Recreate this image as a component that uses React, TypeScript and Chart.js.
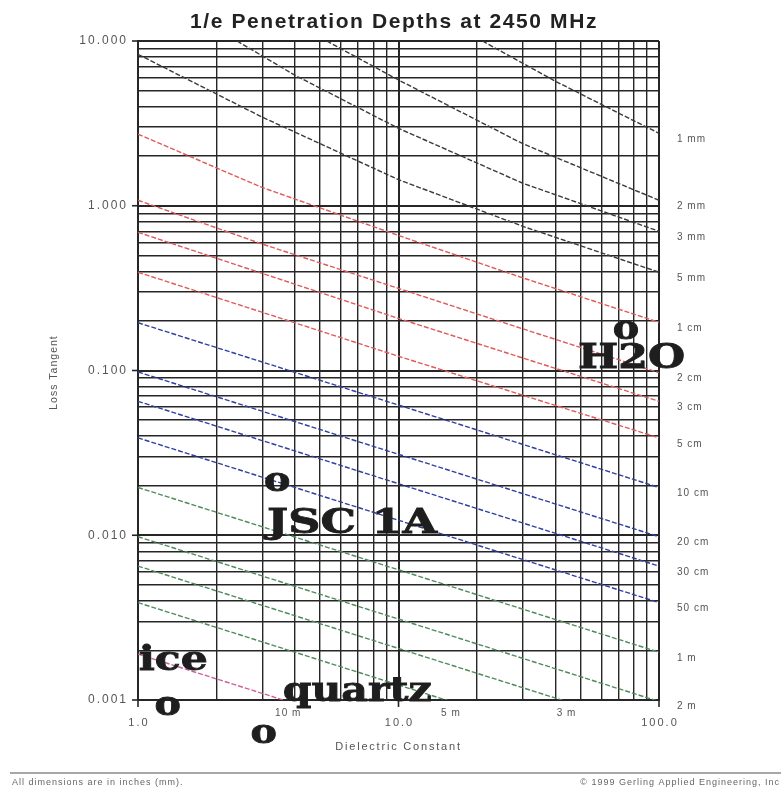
import React, { useEffect, useRef } from "react";
import { Chart, registerables } from "chart.js";
Chart.register(...registerables);

// ---------- text ----------
const chartTitle = "1/e Penetration Depths at 2450 MHz";
const xTitle = "Dielectric Constant";
const yTitle = "Loss Tangent";
const footLeft = "All dimensions are in inches (mm).";
const footRight = "\u00A9 1999 Gerling Applied Engineering, Inc";

// ---------- axes ----------
const xDecades = [1, 10, 100];
const xDecadeLabels = ["1.0", "10.0", "100.0"];
const yDecades = [0.001, 0.01, 0.1, 1, 10];
const yDecadeLabels = ["0.001", "0.010", "0.100", "1.000", "10.000"];
const gridMultipliers = [1, 2, 3, 4, 5, 6, 7, 8, 9];

// ---------- penetration-depth lines (dielectric constant, loss tangent) ----------
const depthLabels = ["1 mm", "2 mm", "3 mm", "5 mm", "1 cm", "2 cm", "3 cm", "5 cm", "10 cm", "20 cm", "30 cm", "50 cm", "1 m", "2 m", "3 m", "5 m", "10 m"];
const depthGroup = ["mm", "mm", "mm", "mm", "cm", "cm", "cm", "cm", "dm", "dm", "dm", "dm", "m", "m", "m", "m", "far"];
const depthLabelSide = ["r", "r", "r", "r", "r", "r", "r", "r", "r", "r", "r", "r", "r", "r", "b", "b", "b"];
const depthEps = [
  [21, 40, 100],
  [5.3, 10, 30, 100],
  [2.4, 4, 10, 30, 100],
  [1, 3, 10, 30, 100],
  [1, 3, 10, 30, 100],
  [1, 3, 10, 30, 100],
  [1, 10, 100],
  [1, 10, 100],
  [1, 100],
  [1, 100],
  [1, 100],
  [1, 100],
  [1, 100],
  [1, 100],
  [1, 100],
  [1, 100],
  [1, 100],
];
const depthTan = [
  [10, 5.7, 2.75],
  [10, 5.8, 2.38, 1.08],
  [10, 6.2, 2.95, 1.37, 0.7],
  [8.3, 3.45, 1.44, 0.75, 0.395],
  [2.72, 1.29, 0.66, 0.365, 0.196],
  [1.08, 0.585, 0.315, 0.179, 0.097],
  [0.69, 0.207, 0.065],
  [0.395, 0.122, 0.039],
  [0.195, 0.0195],
  [0.098, 0.0098],
  [0.065, 0.0065],
  [0.039, 0.0039],
  [0.0195, 0.00195],
  [0.0098, 0.00098],
  [0.0065, 0.00065],
  [0.0039, 0.00039],
  [0.0019, 0.00019],
];

// ---------- materials ----------
const materialNames = ["H2O", "JSC 1A", "ice", "quartz"];
const materialEps = [74.7, 3.42, 1.3, 3.04];
const materialTan = [0.176, 0.021, 0.00092, 0.00062];

// ---------- styles ----------
const groupColor: Record<string, string> = {
  mm: "#3a3a3a",
  cm: "#e05a5a",
  dm: "#2f3f9f",
  m: "#4f8a5a",
  far: "#d0609a",
};
const GRID = "#262626";
const LABEL = "#555555";
const SANS = "'Liberation Sans', Arial, sans-serif";
const SERIF = "'DejaVu Serif', serif";
const materialLabelOffset = [[-48, 38], [-10, 51], [-29, -36], [19, -33]];
const materialLabelWidth = [107, 170, 69, 149];

const isDecade = (v: number) => Math.abs(Math.log10(v) - Math.round(Math.log10(v))) < 1e-9;

const overlay = {
  id: "overlay",
  afterDraw(chart: any) {
    const { ctx, chartArea: a, scales } = chart;
    const x = scales.x;
    const y = scales.y;
    ctx.save();

    // major tick marks
    ctx.strokeStyle = GRID;
    ctx.lineWidth = 1.6;
    yDecades.forEach((v) => {
      const py = y.getPixelForValue(v);
      ctx.beginPath();
      ctx.moveTo(a.left - 6, py);
      ctx.lineTo(a.left, py);
      ctx.stroke();
    });
    xDecades.forEach((v) => {
      const px = x.getPixelForValue(v);
      ctx.beginPath();
      ctx.moveTo(px, a.bottom);
      ctx.lineTo(px, a.bottom + 7);
      ctx.stroke();
    });

    // tick labels
    ctx.fillStyle = LABEL;
    ctx.font = `12px ${SANS}`;
    (ctx as any).letterSpacing = "2px";
    ctx.textAlign = "right";
    ctx.textBaseline = "middle";
    yDecades.forEach((v, i) => {
      ctx.fillText(yDecadeLabels[i], a.left - 10, y.getPixelForValue(v));
    });
    ctx.font = `11px ${SANS}`;
    ctx.textAlign = "center";
    xDecades.forEach((v, i) => {
      ctx.fillText(xDecadeLabels[i], x.getPixelForValue(v) + 1, a.bottom + 23);
    });

    // axis titles
    ctx.font = `11px ${SANS}`;
    (ctx as any).letterSpacing = "1.8px";
    ctx.fillText(xTitle, (a.left + a.right) / 2, a.bottom + 47);
    ctx.save();
    ctx.translate(54, (a.top + a.bottom) / 2 + 2);
    ctx.rotate(-Math.PI / 2);
    ctx.font = `10.5px ${SANS}`;
    (ctx as any).letterSpacing = "1px";
    ctx.fillText(yTitle, 0, 0);
    ctx.restore();

    // title
    (ctx as any).letterSpacing = "1.6px";
    ctx.fillStyle = "#222";
    ctx.font = `bold 21px ${SANS}`;
    ctx.fillText(chartTitle, 394, 22);

    // depth labels
    ctx.fillStyle = LABEL;
    ctx.font = `10px ${SANS}`;
    (ctx as any).letterSpacing = "1px";
    ctx.textAlign = "left";
    const logMin = Math.log10(y.min);
    depthLabels.forEach((lab, i) => {
      const es = depthEps[i];
      const ts = depthTan[i];
      const n = es.length;
      if (depthLabelSide[i] === "r") {
        const py = Math.min(y.getPixelForValue(ts[n - 1]), a.bottom);
        ctx.textAlign = "left";
        ctx.fillText(lab, a.right + 18, py + 6);
      } else {
        for (let k = 0; k < n - 1; k++) {
          const t0 = Math.log10(ts[k]);
          const t1 = Math.log10(ts[k + 1]);
          if (t0 >= logMin && t1 < logMin) {
            const f = (t0 - logMin) / (t0 - t1);
            const le = Math.log10(es[k]) + f * (Math.log10(es[k + 1]) - Math.log10(es[k]));
            const px = x.getPixelForValue(Math.pow(10, le));
            ctx.textAlign = "center";
            ctx.fillText(lab, px + 5, a.bottom + 13);
            break;
          }
        }
      }
    });

    // materials
    (ctx as any).letterSpacing = "0px";
    ctx.fillStyle = "#1e1e1e";
    ctx.strokeStyle = "#1e1e1e";
    ctx.lineWidth = 0.8;
    const fs = 33;
    ctx.font = `bold ${fs}px ${SERIF}`;
    materialNames.forEach((name, i) => {
      const px = x.getPixelForValue(materialEps[i]);
      const py = y.getPixelForValue(materialTan[i]);
      ctx.textAlign = "center";
      ctx.textBaseline = "alphabetic";
      ctx.save();
      ctx.translate(px, py + fs * 0.27);
      ctx.scale(1.2, 1);
      ctx.fillText("o", 0, 0);
      ctx.strokeText("o", 0, 0);
      ctx.restore();
      const lx = px + materialLabelOffset[i][0];
      const ly = py + materialLabelOffset[i][1];
      const w = ctx.measureText(name).width;
      ctx.save();
      ctx.translate(lx, ly);
      ctx.scale(materialLabelWidth[i] / w, 1);
      ctx.textAlign = "left";
      ctx.fillText(name, 0, 0);
      ctx.strokeText(name, 0, 0);
      ctx.restore();
    });

    // footer
    ctx.strokeStyle = "#8a8a8a";
    ctx.lineWidth = 1.5;
    ctx.beginPath();
    ctx.moveTo(10, 773);
    ctx.lineTo(781, 773);
    ctx.stroke();
    ctx.fillStyle = "#666";
    ctx.font = `9px ${SANS}`;
    (ctx as any).letterSpacing = "1px";
    ctx.textBaseline = "middle";
    ctx.textAlign = "left";
    ctx.fillText(footLeft, 12, 783);
    ctx.textAlign = "right";
    ctx.fillText(footRight, 780, 783);

    ctx.restore();
  },
};

export default function App() {
  const ref = useRef<HTMLCanvasElement | null>(null);
  useEffect(() => {
    document.body.style.margin = "0";
    const canvas = ref.current;
    if (!canvas) return;
    const xTicks: number[] = [];
    xDecades.slice(0, -1).forEach((d) => gridMultipliers.forEach((m) => xTicks.push(d * m)));
    xTicks.push(xDecades[xDecades.length - 1]);
    const yTicks: number[] = [];
    yDecades.slice(0, -1).forEach((d) => gridMultipliers.forEach((m) => yTicks.push(+(d * m).toPrecision(6))));
    yTicks.push(yDecades[yDecades.length - 1]);

    const datasets = depthLabels.map((lab, i) => ({
      label: lab,
      data: depthEps[i].map((e, k) => ({ x: e, y: depthTan[i][k] })),
      showLine: true,
      borderColor: groupColor[depthGroup[i]],
      backgroundColor: groupColor[depthGroup[i]],
      borderWidth: 1.4,
      borderDash: [5, 2],
      pointRadius: 0,
      tension: 0,
      fill: false,
    }));

    const gridOpts = {
      color: GRID,
      lineWidth: (c: any) => (c.tick && isDecade(c.tick.value) ? 2 : 1.4),
      drawTicks: false,
    };

    const chart = new Chart(canvas, {
      type: "scatter",
      data: { datasets },
      options: {
        animation: false,
        responsive: false,
        devicePixelRatio: 1,
        layout: { padding: { top: 41, right: 123, bottom: 0, left: 0 } },
        plugins: { legend: { display: false }, tooltip: { enabled: false }, title: { display: false } },
        scales: {
          x: {
            type: "logarithmic",
            min: 1,
            max: 100,
            afterBuildTicks: (s: any) => {
              s.ticks = xTicks.map((v) => ({ value: v }));
            },
            afterFit: (s: any) => {
              s.height = 88;
            },
            ticks: { display: false },
            grid: gridOpts,
            border: { display: true, color: GRID, width: 2 },
          },
          y: {
            type: "logarithmic",
            min: 0.001,
            max: 10,
            afterBuildTicks: (s: any) => {
              s.ticks = yTicks.map((v) => ({ value: v }));
            },
            afterFit: (s: any) => {
              s.width = 138;
            },
            ticks: { display: false },
            grid: gridOpts,
            border: { display: true, color: GRID, width: 2 },
          },
        },
      } as any,
      plugins: [overlay],
    });
    return () => chart.destroy();
  }, []);
  return <canvas ref={ref} width={782} height={788} style={{ display: "block" }} />;
}
